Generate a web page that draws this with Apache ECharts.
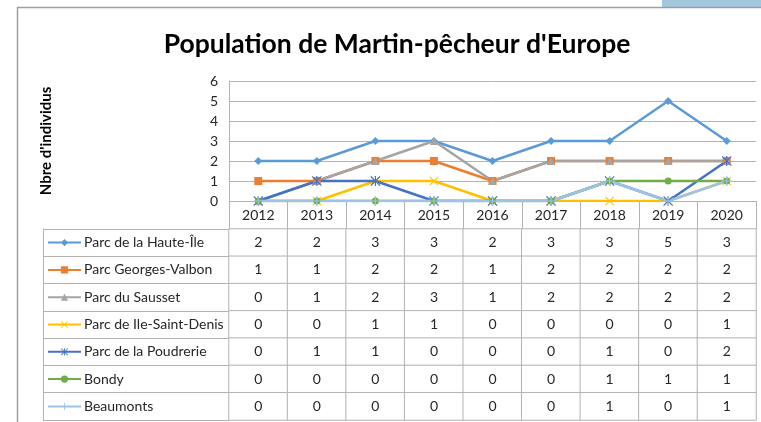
<!DOCTYPE html>
<html>
<head>
<meta charset="utf-8">
<script src="https://cdn.jsdelivr.net/npm/echarts@6/dist/echarts.min.js"></script>
<style>
    html, body {margin: 0; padding: 0; background: #fff;}
    #popChart {width: 761px; height: 422px;}
</style>
</head>
<body>
<div id="popChart"></div>
<script>
var annees = ['2012', '2013', '2014', '2015', '2016', '2017', '2018', '2019', '2020'];
var sites = ['Parc de la Haute-Île', 'Parc Georges-Valbon', 'Parc du Sausset', 'Parc de Ile-Saint-Denis', 'Parc de la Poudrerie', 'Bondy', 'Beaumonts'];
var hauteIle = [2, 2, 3, 3, 2, 3, 3, 5, 3];
var georgesValbon = [1, 1, 2, 2, 1, 2, 2, 2, 2];
var sausset = [0, 1, 2, 3, 1, 2, 2, 2, 2];
var ileSaintDenis = [0, 0, 1, 1, 0, 0, 0, 0, 1];
var poudrerie = [0, 1, 1, 0, 0, 0, 1, 0, 2];
var bondy = [0, 0, 0, 0, 0, 0, 1, 1, 1];
var beaumonts = [0, 0, 0, 0, 0, 0, 1, 0, 1];
var yTicks = [0, 1, 2, 3, 4, 5, 6];

var valeurs = [hauteIle, georgesValbon, sausset, ileSaintDenis, poudrerie, bondy, beaumonts];
var couleurs = ['#5b9bd5', '#ed7d31', '#a5a5a5', '#ffc000', '#4472c4', '#70ad47', '#9dc3e6'];
var symboles = [
    'diamond',
    'rect',
    'triangle',
    'path://M0,0.8L0.8,0L5,4.2L9.2,0L10,0.8L5.8,5L10,9.2L9.2,10L5,5.8L0.8,10L0,9.2L4.2,5Z',
    'path://M0,0.8L0.8,0L5,4.2L9.2,0L10,0.8L5.8,5L10,9.2L9.2,10L5,5.8L0.8,10L0,9.2L4.2,5ZM4.4,0H5.6V10H4.4Z',
    'circle',
    'path://M4.4,0H5.6V4.4H10V5.6H5.6V10H4.4V5.6H0V4.4H4.4Z'
];
var tailles = [8, 8, 8, 9, 10, 7, 10];

var gris = '#b3b3b3';
var texte = '#262626';
var police = 'Lato';

var myChart = echarts.init(document.getElementById('popChart'), null, {renderer: 'canvas'});

var series = [];
for (var i = 0; i < sites.length; i++) {
    series.push({
        name: sites[i],
        type: 'line',
        xAxisIndex: 0,
        yAxisIndex: 0,
        data: valeurs[i],
        symbol: symboles[i],
        symbolSize: tailles[i],
        showAllSymbol: true,
        color: couleurs[i],
        lineStyle: {width: 2.5, color: couleurs[i]},
        itemStyle: {color: couleurs[i]},
        emphasis: {disabled: true},
        animation: false
    });
}

// cellules du tableau de données
var cellules = [];
for (var r = 0; r < sites.length; r++) {
    for (var c = 0; c < annees.length; c++) {
        cellules.push([c, r, valeurs[r][c]]);
    }
}
series.push({
    type: 'heatmap',
    xAxisIndex: 1,
    yAxisIndex: 1,
    data: cellules,
    itemStyle: {color: '#fff', borderColor: gris, borderWidth: 1},
    label: {show: true, fontFamily: police, fontSize: 14, color: texte},
    emphasis: {disabled: true},
    animation: false
});

option = {
    backgroundColor: '#fff',
    animation: false,
    title: {
        text: "Population de Martin-pêcheur d'Europe",
        left: 392,
        textAlign: 'center',
        top: 26,
        textStyle: {fontFamily: police, fontWeight: 'bold', fontSize: 26.5, color: '#000'}
    },
    legend: {
        orient: 'vertical',
        left: 47,
        top: 235.6,
        padding: 0,
        height: 200,
        itemWidth: 33,
        itemHeight: 9,
        itemGap: 13.3,
        selectedMode: false,
        data: sites,
        lineStyle: {width: 2},
        textStyle: {fontFamily: police, fontSize: 14, lineHeight: 14, color: texte, padding: [0, 0, 0, -2]}
    },
    grid: [
        {left: 229, top: 81, width: 527, height: 120},
        {left: 229, top: 229, width: 527, height: 191}
    ],
    xAxis: [
        {
            type: 'category',
            gridIndex: 0,
            data: annees,
            axisLine: {lineStyle: {color: gris, width: 1}},
            axisTick: {show: true, interval: 0, length: 28, lineStyle: {color: gris}},
            axisLabel: {interval: 0, margin: 7, fontFamily: police, fontSize: 14, color: texte}
        },
        {
            type: 'category',
            gridIndex: 1,
            data: annees,
            axisLine: {show: false},
            axisTick: {show: false},
            axisLabel: {show: false}
        }
    ],
    yAxis: [
        {
            type: 'value',
            gridIndex: 0,
            min: yTicks[0],
            max: yTicks[yTicks.length - 1],
            interval: 1,
            name: "Nbre d'individus",
            nameLocation: 'middle',
            nameRotate: 90,
            nameGap: 175,
            nameTextStyle: {fontFamily: police, fontWeight: 'bold', fontSize: 15, color: '#000'},
            axisLine: {show: true, lineStyle: {color: gris}},
            axisTick: {show: false},
            splitLine: {lineStyle: {color: gris}},
            axisLabel: {margin: 11, fontFamily: police, fontSize: 14, color: texte}
        },
        {
            type: 'category',
            gridIndex: 1,
            inverse: true,
            data: sites,
            axisLine: {show: false},
            axisTick: {show: true, interval: 0, length: 186, lineStyle: {color: gris}},
            axisLabel: {show: false}
        },
        {
            type: 'category',
            gridIndex: 1,
            position: 'left',
            offset: 186,
            data: sites,
            axisLine: {show: true, lineStyle: {color: gris}},
            axisTick: {show: false},
            axisLabel: {show: false}
        }
    ],
    graphic: [
        {type: 'rect', shape: {x: 662, y: 0, width: 99, height: 7}, style: {fill: '#a3c7df'}, silent: true},
        {type: 'line', shape: {x1: 17, y1: 7.5, x2: 761, y2: 7.5}, style: {stroke: '#9e9e9e', lineWidth: 1.5}, silent: true},
        {type: 'line', shape: {x1: 17.5, y1: 7, x2: 17.5, y2: 422}, style: {stroke: '#9e9e9e', lineWidth: 1.5}, silent: true}
    ],
    series: series
};
myChart.setOption(option);
</script>
</body>
</html>
